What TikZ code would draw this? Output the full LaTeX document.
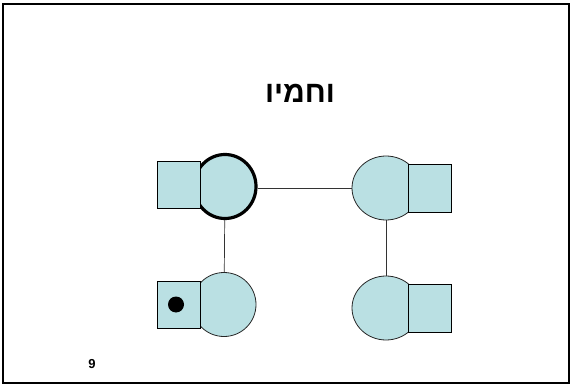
\documentclass[tikz,border=0pt]{standalone}
\usepackage{fontspec}
\setmainfont{Liberation Sans}
\newfontfamily\hebfont[Script=Hebrew]{Liberation Sans}
\TeXXeTstate=1
\usetikzlibrary{shapes.geometric}
\definecolor{kin}{RGB}{186,224,227}
\tikzset{
  person/.style={ellipse, draw=black!85, fill=kin, line width=0.8pt, inner sep=0pt,
                 minimum width=#1, minimum height=64pt},
  person/.default=66pt,
  box/.style={draw=black, fill=kin, line width=0.8pt},
  link/.style={draw=black!80, line width=0.7pt},
  frame/.style={draw=black, line width=1.7pt}
}
\begin{document}
\begin{tikzpicture}[x=1pt,y=-1pt]
  \useasboundingbox (0,0) rectangle (572,387);
  \draw[frame] (3,4) rectangle (569,383);

  % title and page number
  \node[font=\hebfont\bfseries\fontsize{30}{36}\selectfont] (title) at (300,93) {\beginR וחמיו\endR};
  \node[font=\bfseries\fontsize{13}{15}\selectfont] (page) at (92,364) {9};

  % circles (female side of each pair)
  \node[person=62pt, line width=3.2pt, draw=black] (tl) at (225,186.5) {};
  \node[person=68pt] (tr) at (386,188) {};
  \node[person=64pt] (bl) at (224,304.5) {};
  \node[person=68pt] (br) at (386,308) {};

  % squares on top of the circles
  \draw[box] (157,161) rectangle (200,208);
  \draw[box] (408,164) rectangle (451,212);
  \draw[box] (157,281) rectangle (200,328);
  \draw[box] (408,284) rectangle (451,332);

  % marked individual
  \fill (176,304.5) circle (8pt);

  % relationship lines
  \draw[link] (tl.east |- tr.west) -- (tr.west);
  \draw[link] (tl) -- (bl);
  \draw[link] (tr) -- (br);
\end{tikzpicture}
\end{document}
